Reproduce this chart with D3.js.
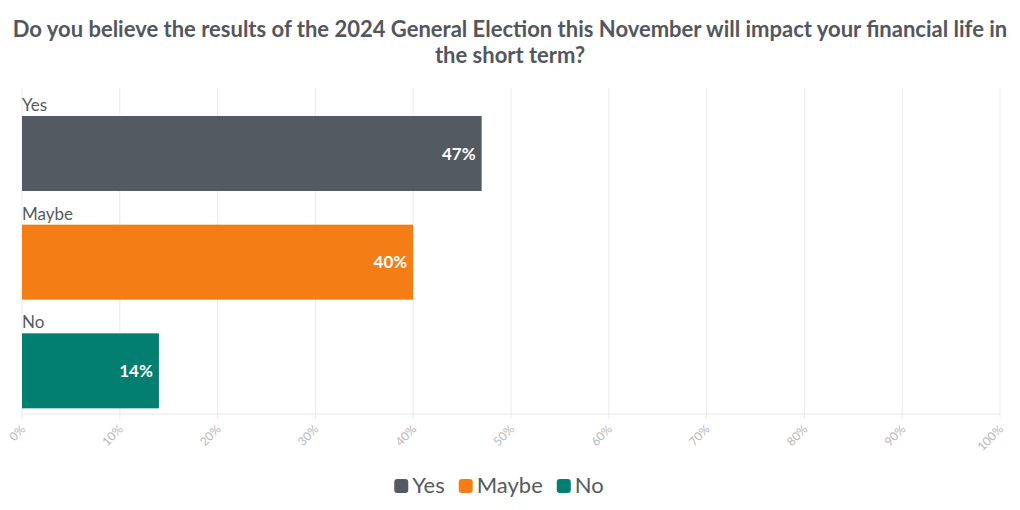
<!DOCTYPE html>
<html><head><meta charset="utf-8">
<script src="https://cdn.jsdelivr.net/npm/d3@7"></script>
<style>body{margin:0;background:#fff;} text{font-family:"Source Sans Pro","Lato","Open Sans",sans-serif;}</style>
</head><body>
<svg id="c" width="1020" height="510"></svg>
<script>
const categories = ["Yes", "Maybe", "No"];
const values = [47, 40, 14];
const colors = ["#545a62", "#f57d15", "#027f71"];
const ticks = [0,10,20,30,40,50,60,70,80,90,100];
const titleLines = ["Do you believe the results of the 2024 General Election this November will impact your financial life in", "the short term?"];

const svg = d3.select("#c");
const m = {left:22, right:20, top:88, bottom:96};
const W = 1020, H = 510;
const x = d3.scaleLinear().domain([0,100]).range([m.left, W - m.right]);
const y = d3.scaleBand().domain(categories).range([m.top, H - m.bottom]).paddingInner(0).paddingOuter(0);

svg.append("g").selectAll("text").data(titleLines).join("text")
  .attr("x", 510).attr("y", (d,i)=>37 + i*26).attr("text-anchor","middle")
  .attr("font-size", 22).attr("font-weight", 700).attr("fill", "#53575d").text(d=>d);

// grid
svg.append("g").selectAll("line").data(ticks).join("line")
  .attr("x1", d=>x(d)).attr("x2", d=>x(d)).attr("y1", m.top).attr("y2", H - m.bottom + 5)
  .attr("stroke", "#ebebeb").attr("stroke-width", 1);
svg.append("line").attr("x1", x(0)).attr("x2", x(100)).attr("y1", H-m.bottom).attr("y2", H-m.bottom)
  .attr("stroke","#e6e6e6");

// tick labels
svg.append("g").selectAll("text").data(ticks).join("text")
  .attr("transform", d=>`translate(${x(d)+4},${H-m.bottom+16}) rotate(-45)`)
  .attr("text-anchor","end").attr("font-size", 12).attr("fill","#b8b8b8").text(d=>d+"%");

const bw = 75, off = 28;
const g = svg.append("g");
g.selectAll("rect").data(categories).join("rect")
  .attr("x", x(0)).attr("y", d=>y(d)+off).attr("width", (d,i)=>x(values[i])-x(0)).attr("height", bw)
  .attr("fill", (d,i)=>colors[i]);
g.selectAll("text.cat").data(categories).join("text").attr("class","cat")
  .attr("x", x(0)).attr("y", d=>y(d)+off-5).attr("font-size", 17).attr("fill","#555a60").text(d=>d);
g.selectAll("text.val").data(categories).join("text").attr("class","val")
  .attr("x", (d,i)=>x(values[i])-6).attr("y", d=>y(d)+off+bw/2+6).attr("text-anchor","end")
  .attr("font-size", 17).attr("font-weight",700).attr("fill","#fff").text((d,i)=>values[i]+"%");

// legend
const lg = svg.append("g");
const items = categories.map((c,i)=>({c, col:colors[i]}));
let lx = 0;
const tmp = lg.selectAll("g").data(items).join("g");
tmp.append("rect").attr("width",14).attr("height",14).attr("rx",3).attr("y",-14).attr("fill",d=>d.col);
tmp.append("text").attr("x",18).attr("font-size",22).attr("fill","#555a60").text(d=>d.c);
tmp.each(function(){ const w=this.getBBox().width; d3.select(this).attr("transform",`translate(${lx},0)`); lx+=w+14; });
const total = lx - 14;
lg.attr("transform", `translate(${499 - total/2},${493})`);
</script>
</body></html>
